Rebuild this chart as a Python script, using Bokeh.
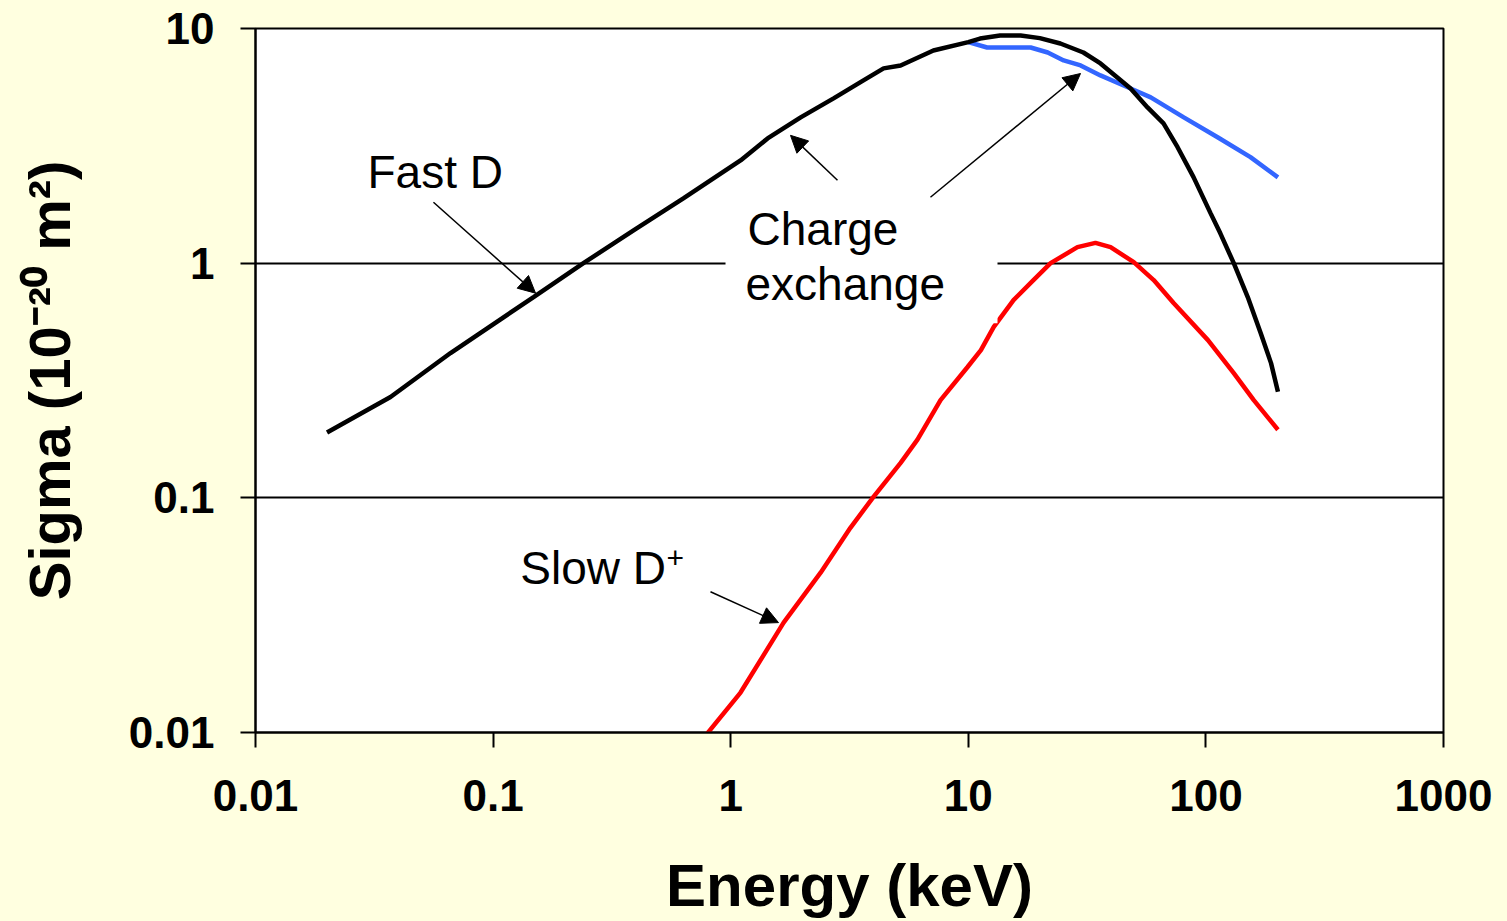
from bokeh.plotting import figure
from bokeh.models import Range1d, FixedTicker, Label, Arrow, NormalHead, BoxAnnotation
from bokeh.embed import file_html
from bokeh.resources import INLINE

# ---- data ----
x_ticks = [0.01, 0.1, 1, 10, 100, 1000]
x_tick_labels = ["0.01", "0.1", "1", "10", "100", "1000"]
y_ticks = [0.01, 0.1, 1, 10]
y_tick_labels = ["0.01", "0.1", "1", "10"]

fast_x = [0.02, 0.037, 0.0662, 0.148, 0.24, 0.39, 0.632, 1.10, 1.43, 1.97, 2.71, 3.62,
          4.40, 5.19, 7.13, 10.0, 11.2, 13.6, 16.6, 20.0, 24.4, 30.5, 36.0, 48.2, 56.8,
          66.3, 76.0, 88.8, 104.7, 115, 131, 150, 170, 188, 201]
fast_y = [0.19, 0.269, 0.414, 0.717, 1.0, 1.38, 1.89, 2.74, 3.40, 4.18, 5.04, 6.01,
          6.76, 6.96, 8.06, 8.75, 9.06, 9.34, 9.34, 9.1, 8.63, 7.90, 7.10, 5.55, 4.61,
          3.94, 3.12, 2.32, 1.63, 1.34, 1.0, 0.717, 0.504, 0.375, 0.283]

cx_x = [10.0, 12.0, 18.3, 21.6, 25.2, 29.7, 36.0, 48.2, 58.6, 80.7, 112, 154, 201]
cx_y = [8.75, 8.30, 8.30, 7.90, 7.31, 6.96, 6.31, 5.55, 5.09, 4.18, 3.44, 2.83, 2.32]

slow_x = [0.79, 1.10, 1.67, 2.39, 3.19, 3.99, 5.19, 6.11, 7.64, 9.93, 11.3, 12.8, 15.5,
          18.8, 22.2, 28.8, 34.3, 39.7, 49.7, 60.3, 73.1, 102, 131, 159, 201]
slow_y = [0.0098, 0.0148, 0.0294, 0.048, 0.0745, 0.101, 0.141, 0.177, 0.261, 0.361,
          0.426, 0.535, 0.696, 0.847, 1.0, 1.17, 1.22, 1.17, 1.01, 0.847, 0.676, 0.470,
          0.340, 0.261, 0.195]

BG = "#FFFFE0"
FONT = "Liberation Sans"

p = figure(width=1507, height=921, x_axis_type="log", y_axis_type="log",
           x_range=Range1d(0.01, 1000), y_range=Range1d(0.01, 10),
           output_backend="svg", toolbar_location=None,
           min_border_left=255, min_border_right=64, min_border_top=28, min_border_bottom=188)

p.background_fill_color = "white"
p.border_fill_color = BG
p.outline_line_color = "black"
p.outline_line_width = 2

# axes
p.xaxis.ticker = FixedTicker(ticks=x_ticks)
p.yaxis.ticker = FixedTicker(ticks=y_ticks)
p.xaxis.major_label_overrides = dict(zip(x_ticks, x_tick_labels))
p.yaxis.major_label_overrides = dict(zip(y_ticks, y_tick_labels))
for ax in (p.xaxis, p.yaxis):
    ax.axis_line_color = "black"
    ax.axis_line_width = 2
    ax.major_tick_line_color = "black"
    ax.major_tick_line_width = 2
    ax.major_tick_out = 15
    ax.major_tick_in = 0
    ax.minor_tick_line_color = None
    ax.major_label_text_font = FONT
    ax.major_label_text_font_style = "bold"
    ax.major_label_text_font_size = "44px"
    ax.major_label_text_color = "black"
    ax.axis_label_text_font = FONT
    ax.axis_label_text_font_style = "bold"
    ax.axis_label_text_font_size = "58px"
    ax.axis_label_text_color = "black"

p.xaxis.axis_label_text_font_size = "60px"
p.xaxis.major_label_standoff = 32
p.yaxis.major_label_standoff = 26
p.xaxis.axis_label = "Energy (keV)"
p.xaxis.axis_label_standoff = 38
p.yaxis.axis_label = "Sigma (10\u207b\u00b2\u2070 m\u00b2)"
p.yaxis.axis_label_standoff = 44

p.xgrid.grid_line_color = None
p.ygrid.ticker = FixedTicker(ticks=[0.1, 1])
p.ygrid.grid_line_color = "black"
p.ygrid.grid_line_width = 2

# curves
p.line(cx_x, cx_y, line_color="#3366FF", line_width=4.5)
p.line(fast_x, fast_y, line_color="black", line_width=4.5)
p.line(slow_x, slow_y, line_color="#FF0000", line_width=4.5)

# white box behind "Charge exchange"
p.add_layout(BoxAnnotation(left=0.951, right=13.27, bottom=0.555, top=1.854,
                           fill_color="white", fill_alpha=1.0, line_color=None))

def lab(x, y, t, size="46px"):
    p.add_layout(Label(x=x, y=y, text=t, text_font=FONT, text_font_size=size,
                       text_color="black", text_baseline="alphabetic", text_align="left"))

lab(0.0296, 2.44, "Fast D")
lab(1.177, 1.396, "Charge")
lab(1.154, 0.814, "exchange")
lab(0.1302, 0.050, "Slow D")
lab(0.537, 0.0556, "+", size="30px")

def arrow(xs, ys, xe, ye):
    p.add_layout(Arrow(end=NormalHead(size=17, fill_color="black", line_color="black"),
                       x_start=xs, y_start=ys, x_end=xe, y_end=ye,
                       line_color="black", line_width=1.5))

arrow(0.0561, 1.818, 0.1509, 0.745)
arrow(2.815, 2.256, 1.785, 3.505)
arrow(6.93, 1.909, 29.67, 6.43)
arrow(0.822, 0.0398, 1.589, 0.0294)

TEMPLATE = "{% block preamble %}<style>body{background:" + BG + ";}</style>{% endblock %}"
open("out.html", "w").write(file_html(p, INLINE, template=TEMPLATE))
